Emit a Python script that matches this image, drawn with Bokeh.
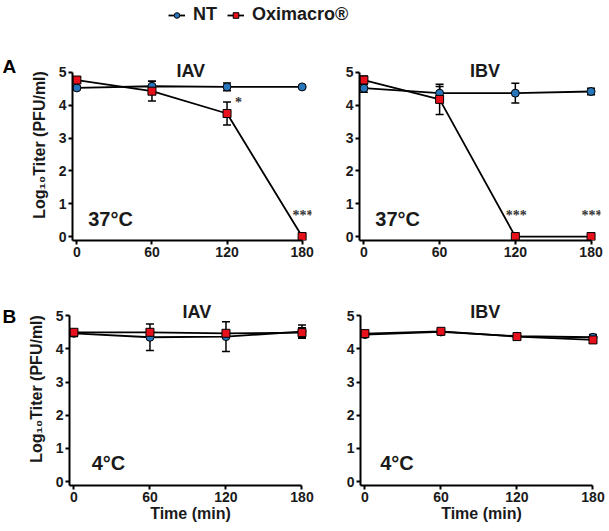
from bokeh.plotting import figure
from bokeh.models import (Range1d, Whisker, TeeHead, ColumnDataSource, Label, LabelSet,
                          Legend, LegendItem, FixedTicker)
from bokeh.layouts import column, row
from bokeh.embed import file_html
from bokeh.resources import INLINE

# ---------------- data ----------------
time = [0, 60, 120, 180]
x_ticks = [0, 60, 120, 180]
y_ticks = [0, 1, 2, 3, 4, 5]

# A: 37°C
a_iav_nt = [4.53, 4.58, 4.56, 4.56]
a_iav_nt_err = [0.05, 0.15, 0.12, 0.04]
a_iav_ox = [4.77, 4.43, 3.75, 0.0]
a_iav_ox_err = [0.10, 0.30, 0.35, 0.0]
a_iav_sig = ["", "", "*", "***"]

a_ibv_nt = [4.52, 4.37, 4.37, 4.42]
a_ibv_nt_err = [0.12, 0.20, 0.30, 0.10]
a_ibv_ox = [4.77, 4.18, 0.0, 0.0]
a_ibv_ox_err = [0.12, 0.46, 0.0, 0.0]
a_ibv_sig = ["", "", "***", "***"]

# B: 4°C
b_iav_nt = [4.47, 4.35, 4.37, 4.52]
b_iav_nt_err = [0.10, 0.40, 0.45, 0.20]
b_iav_ox = [4.50, 4.50, 4.47, 4.49]
b_iav_ox_err = [0.05, 0.05, 0.08, 0.15]
b_iav_sig = ["", "", "", ""]

b_ibv_nt = [4.43, 4.51, 4.38, 4.35]
b_ibv_nt_err = [0.05, 0.05, 0.04, 0.08]
b_ibv_ox = [4.46, 4.53, 4.37, 4.27]
b_ibv_ox_err = [0.05, 0.05, 0.04, 0.06]
b_ibv_sig = ["", "", "", ""]

series_names = ["NT", "Oximacro®"]
panel_titles = ["IAV", "IBV"]
temps = ["37°C", "4°C"]
row_letters = ["A", "B"]
x_label = "Time (min)"
y_label = "Log₁₀Titer (PFU/ml)"

# ---------------- style ----------------
FONT = "Liberation Sans"
BLUE = "#2776BB"
RED = "#E8101A"
TXT = "#1a1a1a"
X0, X1 = -3.5, 187.5
Y0, Y1 = -0.12, 5.7
LW = 1.8


def style_text(obj, size):
    obj.text_font = FONT
    obj.text_font_style = "bold"
    obj.text_font_size = size
    obj.text_color = TXT


def make_panel(nt, nt_err, ox, ox_err, sig, title, temp, width, height, borders,
               show_ylab, show_xlab, title_dy, temp_x=9, title_x=95):
    bl, br, bt, bb = borders
    p = figure(width=width, height=height, x_range=Range1d(X0, X1),
               y_range=Range1d(Y0, Y1), toolbar_location=None,
               output_backend="svg", min_border_left=bl, min_border_right=br,
               min_border_top=bt, min_border_bottom=bb)
    p.outline_line_color = None
    p.grid.visible = False

    for ax, ticks, bounds in ((p.xaxis[0], x_ticks, (X0, 180)), (p.yaxis[0], y_ticks, (Y0, 5))):
        ax.bounds = bounds
        ax.ticker = FixedTicker(ticks=ticks)
        ax.axis_line_width = 2
        ax.axis_line_color = "black"
        ax.major_tick_line_width = 2
        ax.major_tick_line_color = "black"
        ax.major_tick_out = 4
        ax.major_tick_in = 0
        ax.minor_tick_line_color = None
        ax.major_label_text_font = FONT
        ax.major_label_text_font_style = "bold"
        ax.major_label_text_font_size = "14px"
        ax.major_label_text_color = TXT
        ax.major_label_standoff = 2
        ax.axis_label_text_font = FONT
        ax.axis_label_text_font_style = "bold"
        ax.axis_label_text_font_size = "16px"
        ax.axis_label_text_color = TXT
    if show_ylab:
        p.yaxis.axis_label = y_label
        p.yaxis.axis_label_standoff = 8
    if show_xlab:
        p.xaxis.axis_label = x_label
        p.xaxis.axis_label_standoff = 0

    # error bars
    for vals, errs in ((nt, nt_err), (ox, ox_err)):
        xs = [t for t, e in zip(time, errs) if e > 0]
        lo = [v - e for v, e in zip(vals, errs) if e > 0]
        hi = [v + e for v, e in zip(vals, errs) if e > 0]
        src = ColumnDataSource(dict(x=xs, lower=lo, upper=hi))
        w = Whisker(source=src, base="x", lower="lower", upper="upper",
                    line_color="black", line_width=1.5,
                    upper_head=TeeHead(size=8, line_color="black", line_width=1.5),
                    lower_head=TeeHead(size=8, line_color="black", line_width=1.5))
        p.add_layout(w)

    p.line(time, nt, line_color="black", line_width=LW)
    p.line(time, ox, line_color="black", line_width=LW)
    p.scatter(time, nt, marker="circle", size=8, fill_color=BLUE,
              line_color="black", line_width=1)
    p.scatter(time, ox, marker="square", size=8, fill_color=RED,
              line_color="black", line_width=1)

    # significance marks
    s3 = [(t, v, s) for t, v, s in zip(time, ox, sig) if s == "***"]
    s1 = [(t, v, s) for t, v, s in zip(time, ox, sig) if s == "*"]
    if s3:
        src3 = ColumnDataSource(dict(x=[a[0] for a in s3], y=[a[1] for a in s3],
                                     t=[a[2] for a in s3]))
        ls = LabelSet(x="x", y="y", text="t", source=src3, x_offset=1, y_offset=21,
                      text_align="center", text_baseline="middle")
        style_text(ls, "14px")
        ls.text_color = "#333333"
        p.add_layout(ls)
    if s1:
        src1 = ColumnDataSource(dict(x=[a[0] for a in s1], y=[a[1] for a in s1],
                                     t=[a[2] for a in s1]))
        ls = LabelSet(x="x", y="y", text="t", source=src1, x_offset=8, y_offset=11,
                      text_align="left", text_baseline="middle")
        style_text(ls, "14px")
        ls.text_color = "#333333"
        p.add_layout(ls)

    # title (inside the frame, above the top tick)
    tl = Label(x=title_x, y=5, text=title, y_offset=title_dy, text_align="center",
               text_baseline="alphabetic")
    style_text(tl, "18px")
    p.add_layout(tl)

    # temperature
    tp = Label(x=temp_x, y=0.55, text=temp, text_align="left", text_baseline="middle")
    style_text(tp, "20px")
    p.add_layout(tp)
    return p


def letter_fig(letter, height, from_top):
    f = figure(width=24, height=height, x_range=Range1d(0, 24), y_range=Range1d(0, height),
               toolbar_location=None, output_backend="svg", x_axis_location=None,
               y_axis_location=None, min_border=0)
    f.outline_line_color = None
    f.grid.visible = False
    lb = Label(x=2, y=height - from_top, text=letter, text_align="left", text_baseline="middle")
    style_text(lb, "19px")
    lb.text_color = "black"
    f.add_layout(lb)
    return f


a1 = make_panel(a_iav_nt, a_iav_nt_err, a_iav_ox, a_iav_ox_err, a_iav_sig, panel_titles[0],
                temps[0], 306, 220, (48, 19, 4, 25), True, False, 1, title_x=91)
a2 = make_panel(a_ibv_nt, a_ibv_nt_err, a_ibv_ox, a_ibv_ox_err, a_ibv_sig, panel_titles[1],
                temps[0], 275, 220, (29, 5, 2, 24), False, False, 1, title_x=96)
b1 = make_panel(b_iav_nt, b_iav_nt_err, b_iav_ox, b_iav_ox_err, b_iav_sig, panel_titles[0],
                temps[1], 306, 262, (45, 19, 27, 42), True, True, 4, temp_x=14, title_x=97)
b2 = make_panel(b_ibv_nt, b_ibv_nt_err, b_ibv_ox, b_ibv_ox_err, b_ibv_sig, panel_titles[1],
                temps[1], 275, 262, (30, 3, 25, 41), False, True, 4, temp_x=12, title_x=95)
la = letter_fig(row_letters[0], 220, 20)
lb = letter_fig(row_letters[1], 262, 33)

# legend strip (renderers use the IAV 37°C data, kept outside the strip's visible range)
leg = figure(width=605, height=45, x_range=Range1d(-20, -10), y_range=Range1d(0, 1),
             toolbar_location=None, output_backend="svg", x_axis_location=None,
             y_axis_location=None, min_border=0)
leg.outline_line_color = None
leg.grid.visible = False
l1 = leg.line(time, a_iav_nt, line_color="black", line_width=LW)
m1 = leg.scatter(time, a_iav_nt, marker="circle", size=8, fill_color=BLUE, line_color="black")
l2 = leg.line(time, a_iav_ox, line_color="black", line_width=LW)
m2 = leg.scatter(time, a_iav_ox, marker="square", size=8, fill_color=RED, line_color="black")
legend = Legend(items=[LegendItem(label=series_names[0], renderers=[l1, m1]),
                       LegendItem(label=series_names[1], renderers=[l2, m2])],
                orientation="horizontal", location=(168, 20), border_line_color=None,
                background_fill_alpha=0, label_text_font=FONT, label_text_font_style="bold",
                label_text_font_size="18px", label_text_color=TXT, glyph_width=17,
                glyph_height=14, spacing=10, padding=0, margin=0, label_standoff=8)
leg.add_layout(legend, "center")

layout = column(leg, row(la, a1, a2), row(lb, b1, b2))

open("out.html", "w").write(file_html(layout, INLINE))
